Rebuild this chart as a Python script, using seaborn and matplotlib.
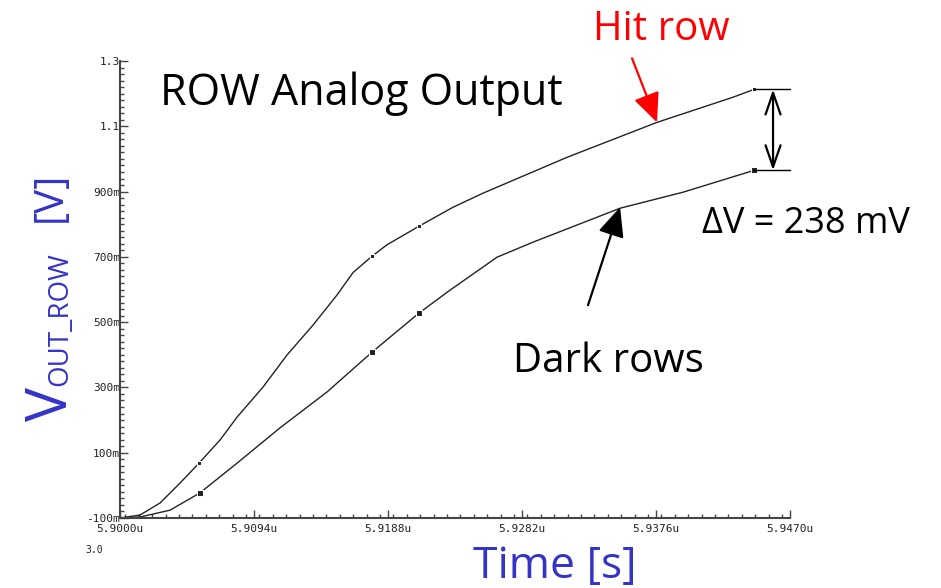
import matplotlib
matplotlib.use("Agg")
import matplotlib.pyplot as plt
from matplotlib.ticker import MultipleLocator, FixedLocator, FixedFormatter
import seaborn as sns
import pandas as pd

# ---- data (time in microseconds, voltage in volts) ----
hit_t = [5.9000, 5.90140, 5.90281, 5.90421, 5.90554, 5.90702, 5.90821, 5.91003,
         5.91171, 5.91354, 5.91522, 5.91635, 5.91768, 5.91873, 5.92098, 5.92336,
         5.92546, 5.93136, 5.93767, 5.94300, 5.94448]
hit_v = [-0.100, -0.091, -0.054, 0.007, 0.068, 0.139, 0.209, 0.301,
         0.399, 0.491, 0.583, 0.652, 0.702, 0.737, 0.794, 0.852,
         0.895, 1.005, 1.112, 1.189, 1.213]
hit_marks = [4, 12, 14, 20]

dark_t = [5.9000, 5.90140, 5.90351, 5.90561, 5.90821, 5.91122, 5.91452, 5.91768,
          5.92098, 5.92315, 5.92645, 5.92897, 5.93508, 5.93949, 5.94448]
dark_v = [-0.100, -0.097, -0.076, -0.023, 0.068, 0.176, 0.286, 0.408,
          0.528, 0.598, 0.699, 0.745, 0.849, 0.898, 0.965]
dark_marks = [3, 7, 8, 14]

x_ticks = [5.9000, 5.9094, 5.9188, 5.9282, 5.9376, 5.9470]
x_labels = ["5.9000u", "5.9094u", "5.9188u", "5.9282u", "5.9376u", "5.9470u"]
y_ticks = [-0.1, 0.1, 0.3, 0.5, 0.7, 0.9, 1.1, 1.3]
y_labels = ["-100m", "100m", "300m", "500m", "700m", "900m", "1.1", "1.3"]

title_text = "ROW Analog Output"
hit_label = "Hit row"
dark_label = "Dark rows"
dv_label = "\u0394V = 238 mV"

sns.set_theme(style="white")
plt.rcParams['font.family'] = ['Open Sans', 'DejaVu Sans']

W, H = 941, 588
fig = plt.figure(figsize=(W / 100, H / 100), dpi=100)
ax = fig.add_axes([120 / W, 1 - 518 / H, 670 / W, 457 / H])

hit_df = pd.DataFrame({"t": hit_t, "v": hit_v})
dark_df = pd.DataFrame({"t": dark_t, "v": dark_v})
sns.lineplot(data=hit_df, x="t", y="v", ax=ax, color="#222222", lw=1.0,
             marker="s", markersize=2.5, markevery=hit_marks, sort=False)
sns.lineplot(data=dark_df, x="t", y="v", ax=ax, color="#222222", lw=1.0,
             marker="s", markersize=4, markevery=dark_marks, sort=False)

ax.set_xlim(x_ticks[0], x_ticks[-1])
ax.set_ylim(y_ticks[0], y_ticks[-1])
ax.set_xlabel("")
ax.set_ylabel("")
for s in ["top", "right"]:
    ax.spines[s].set_visible(False)
for s in ["left", "bottom"]:
    ax.spines[s].set_color("#444444")
    ax.spines[s].set_linewidth(1.5)

ax.xaxis.set_major_locator(FixedLocator(x_ticks))
ax.xaxis.set_major_formatter(FixedFormatter(x_labels))
ax.xaxis.set_minor_locator(MultipleLocator(0.00094))
ax.yaxis.set_major_locator(FixedLocator(y_ticks))
ax.yaxis.set_major_formatter(FixedFormatter(y_labels))
ax.yaxis.set_minor_locator(MultipleLocator(0.02))
ax.tick_params(which="both", direction="in", color="#444444", width=1.0,
               bottom=True, left=True, labelsize=8)
ax.tick_params(which="major", length=6)
ax.tick_params(which="minor", length=3)
ax.tick_params(axis="y", pad=0)
ax.tick_params(axis="x", pad=4)
for lab in ax.get_xticklabels() + ax.get_yticklabels():
    lab.set_fontfamily("DejaVu Sans Mono")
    lab.set_color("#222222")

# ---- annotations ----
x_dv = 5.94581
ax.annotate("", xy=(x_dv, dark_v[-1]), xytext=(x_dv, hit_v[-1]),
            arrowprops=dict(arrowstyle="<->,head_length=1.3,head_width=0.45",
                            color="black", lw=1.6, shrinkA=0, shrinkB=0),
            annotation_clip=False)
ax.plot([hit_t[-1], x_ticks[-1]], [hit_v[-1], hit_v[-1]], color="black", lw=1.0,
        clip_on=False)
ax.plot([dark_t[-1], x_ticks[-1]], [dark_v[-1], dark_v[-1]], color="black", lw=1.0,
        clip_on=False)

ax.annotate("", xy=(hit_t[18], hit_v[18]), xytext=(5.93592, 1.308),
            arrowprops=dict(arrowstyle="-|>,head_length=1.0,head_width=0.45",
                            color="red", lw=1.6, mutation_scale=18,
                            shrinkA=0, shrinkB=0),
            annotation_clip=False)
ax.annotate("", xy=(5.93508, 0.852), xytext=(5.93283, 0.552),
            arrowprops=dict(arrowstyle="-|>,head_length=1.0,head_width=0.45",
                            color="black", lw=1.6, mutation_scale=18,
                            shrinkA=0, shrinkB=0),
            annotation_clip=False)

def px(x, y):
    return x / W, 1 - y / H

fig.text(*px(160, 105), title_text, fontsize=31, color="black", va="baseline", ha="left")
fig.text(*px(593, 40), hit_label, fontsize=29, color="red", va="baseline", ha="left")
fig.text(*px(513, 372), dark_label, fontsize=29, color="black", va="baseline", ha="left")
fig.text(*px(702, 233), dv_label, fontsize=26, color="black", va="baseline", ha="left")

blue = "#3434c8"
fig.text(*px(473, 578), "Time [s]", fontsize=32, color=blue, va="baseline", ha="left")
fig.text(*px(67, 421), "V", fontsize=41, color=blue, rotation=90,
         rotation_mode="anchor", ha="left", va="baseline")
fig.text(*px(67, 386), "OUT_ROW", fontsize=20, color=blue, rotation=90,
         rotation_mode="anchor", ha="left", va="baseline")
fig.text(*px(61, 222), "[V]", fontsize=29, color=blue, rotation=90,
         rotation_mode="anchor", ha="left", va="baseline")

fig.text(*px(85, 553), "3.0", fontsize=7, family="DejaVu Sans Mono", color="#222222",
         va="baseline", ha="left")

fig.savefig("out.png", dpi=100)
